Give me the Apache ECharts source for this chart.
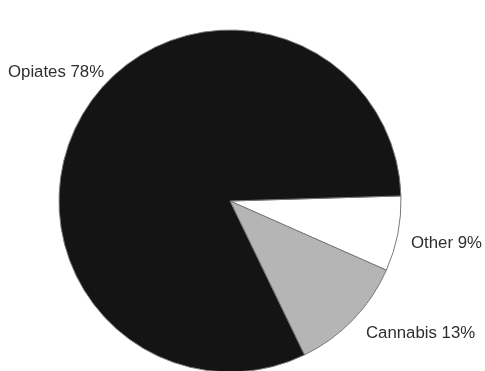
<!DOCTYPE html>
<html>
<head>
<meta charset="utf-8">
<script src="https://cdn.jsdelivr.net/npm/echarts@6/dist/echarts.min.js"></script>
<style>
html,body{margin:0;padding:0;background:#fff;}
#chart{width:485px;height:371px;}
</style>
</head>
<body>
<div id="chart"></div>
<script>
// Categories in drawing order (clockwise from just above 3 o'clock)
var categories = ['Other', 'Cannabis', 'Opiates'];
// Printed percentage labels
var labelPercents = [9, 13, 78];
// Slice sizes as drawn in the picture (angular share, %)
var sliceValues = [7.1, 11.2, 81.7];
var sliceColors = ['#ffffff', '#b5b5b5', '#141414'];

var labelPos = [
  {x: 411, y: 243, align: 'left'},
  {x: 366, y: 333, align: 'left'},
  {x: 8, y: 72, align: 'left'}
];

var chart = echarts.init(document.getElementById('chart'));
chart.setOption({
  backgroundColor: '#ffffff',
  animation: false,
  series: [{
    type: 'pie',
    center: [230, 201],
    radius: [0, 171],
    startAngle: 1.7,
    clockwise: true,
    data: categories.map(function (c, i) {
      return {
        name: c,
        value: sliceValues[i],
        itemStyle: {color: sliceColors[i]},
        label: {formatter: c + ' ' + labelPercents[i] + '%'}
      };
    }),
    itemStyle: {borderColor: '#7a7a7a', borderWidth: 1},
    label: {
      show: true,
      position: 'outside',
      alignTo: 'none',
      overflow: 'none',
      width: 200,
      bleedMargin: 0,
      fontFamily: 'Liberation Sans, Arial, sans-serif',
      fontSize: 16.8,
      color: '#2e2e2e'
    },
    labelLine: {show: false},
    labelLayout: function (params) {
      var p = labelPos[params.dataIndex];
      return {x: p.x, y: p.y, align: p.align, verticalAlign: 'middle', hideOverlap: false};
    },
    emphasis: {disabled: true}
  }]
});
</script>
</body>
</html>
